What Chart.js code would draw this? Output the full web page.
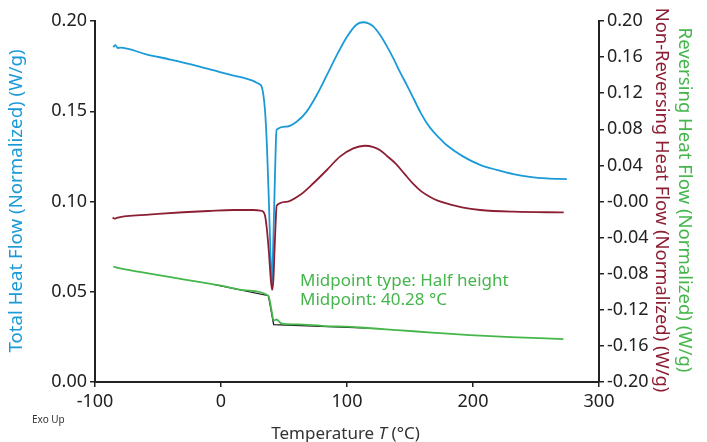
<!DOCTYPE html>
<html>
<head>
<meta charset="utf-8">
<script src="https://cdn.jsdelivr.net/npm/chart.js@4.4.1/dist/chart.umd.min.js"></script>
<style>
  html, body { margin: 0; padding: 0; background: #fff; }
  #wrap { width: 707px; height: 442px; }
</style>
</head>
<body>
<div id="wrap"><canvas id="dscChart" width="707" height="442"></canvas></div>
<script>
// Total heat flow (left axis, W/g)
const totalT = [-85.5, -84, -83, -82, -80, -60, -40, -20, 0, 10, 20, 25, 30, 32.3, 34.9, 36.5, 38, 39.5, 40.3, 41.2, 42.5, 43.6, 44.2, 52, 60, 68, 76, 84, 92, 100, 107.7, 113, 121, 126, 131.5, 137, 142, 147.5, 153, 158, 163, 168.5, 174, 179, 192, 205.6, 218.8, 232, 245, 258.5, 274.5];
const totalHF = [0.1855, 0.1866, 0.1860, 0.1850, 0.1853, 0.1817, 0.1786, 0.1753, 0.1716, 0.1698, 0.1681, 0.1670, 0.1652, 0.1636, 0.1507, 0.130, 0.100, 0.066, 0.053, 0.070, 0.105, 0.134, 0.1398, 0.1415, 0.1442, 0.1498, 0.1590, 0.1700, 0.1812, 0.1913, 0.1981, 0.1993, 0.1969, 0.1925, 0.1862, 0.1790, 0.1718, 0.1645, 0.1568, 0.1498, 0.1438, 0.1387, 0.1347, 0.1313, 0.1250, 0.1203, 0.1175, 0.1152, 0.1137, 0.1128, 0.1124];

// Non-reversing heat flow (right axis, W/g)
const nonRevT = [-86, -84.5, -83, -80, -70, -50, -30, -10, 9.8, 25.6, 31, 33.6, 35, 36.2, 38, 39.5, 40.6, 41.6, 42.6, 43.6, 44.2, 52, 62.7, 73.3, 84, 94.4, 105, 114, 121, 126, 132, 139, 146, 152.6, 159, 166, 172, 179, 192.3, 205.6, 232, 272];
const nonRevHF = [-0.0178, -0.0190, -0.0184, -0.0172, -0.0157, -0.0137, -0.0119, -0.0105, -0.0094, -0.0094, -0.0100, -0.0115, -0.0160, -0.0280, -0.0560, -0.0860, -0.0980, -0.0860, -0.0500, -0.0160, -0.0045, -0.0004, 0.0072, 0.0202, 0.0349, 0.0497, 0.0589, 0.0618, 0.0603, 0.0570, 0.0502, 0.0415, 0.0300, 0.0195, 0.0112, 0.0050, 0.0010, -0.0022, -0.0069, -0.0094, -0.0113, -0.0121];

// Reversing heat flow (right axis, W/g)
const revT = [-85.5, -84, -60, -30, 0, 20, 37.6, 39, 40.5, 41.6, 42.5, 44, 45.5, 48, 60, 80, 110, 140, 170, 197.6, 230, 271.7];
const revHF = [-0.0720, -0.0728, -0.0790, -0.0862, -0.0933, -0.0985, -0.1044, -0.1120, -0.1240, -0.1313, -0.1318, -0.1305, -0.1322, -0.1350, -0.1362, -0.1377, -0.1396, -0.1425, -0.1455, -0.1480, -0.1503, -0.1524];

// Glass transition construction lines (right axis)
const tangentT = [-5, 37.6, 41.8, 117];
const tangentHF = [-0.0921, -0.1044, -0.1365, -0.1402];

const xTicks = [-100, 0, 100, 200, 300];
const midpointLines = ["Midpoint type: Half height", "Midpoint: 40.28 °C"];

const blue = "#1b9ad8";
const wine = "#8c1f34";
const green = "#45b64b";
const ink = "#222222";
const font = "'Noto Sans', 'Open Sans', sans-serif";

const toPoints = (xs, ys) => xs.map((x, i) => ({ x, y: ys[i] }));

// write a rotated title squeezed/stretched to the length it has in the original
function fitText(ctx, text, x, y, angle, length, color) {
  ctx.save();
  ctx.font = "17px " + font;
  const w = ctx.measureText(text).width;
  ctx.font = (17 * length / w).toFixed(2) + "px " + font;
  ctx.translate(x, y);
  ctx.rotate(angle);
  ctx.fillStyle = color;
  ctx.textAlign = "center";
  ctx.textBaseline = "middle";
  ctx.fillText(text, 0, 0);
  ctx.restore();
}

const titlesPlugin = {
  id: "titles",
  afterDraw(chart) {
    const { ctx } = chart;
    fitText(ctx, "Total Heat Flow (Normalized) (W/g)", 17, 201, -Math.PI / 2, 303, blue);
    fitText(ctx, "Non-Reversing Heat Flow (Normalized) (W/g)", 661, 200, Math.PI / 2, 385, wine);
    fitText(ctx, "Reversing Heat Flow (Normalized) (W/g)", 684, 200, Math.PI / 2, 345, green);

    ctx.save();
    // x axis title with italic T
    ctx.textBaseline = "alphabetic";
    ctx.textAlign = "left";
    ctx.fillStyle = "#333";
    const a = "Temperature ", b = "T", c = " (°C)";
    const upright = "17px " + font, italic = "italic 17px " + font;
    ctx.font = upright;
    const wa = ctx.measureText(a).width, wc = ctx.measureText(c).width;
    ctx.font = italic;
    const wb = ctx.measureText(b).width;
    let x = 345.5 - (wa + wb + wc) / 2;
    const y = 439;
    ctx.font = upright; ctx.fillText(a, x, y); x += wa;
    ctx.font = italic; ctx.fillText(b, x, y); x += wb;
    ctx.font = upright; ctx.fillText(c, x, y);

    ctx.font = "10px " + font;
    ctx.fillText("Exo Up", 32, 423);

    ctx.font = "17px " + font;
    ctx.fillStyle = green;
    ctx.fillText(midpointLines[0], 300, 286);
    ctx.fillText(midpointLines[1], 300, 305);
    ctx.restore();
  }
};

const axisStyle = {
  grid: { display: true, drawOnChartArea: false, drawTicks: true, tickLength: 5, color: ink, lineWidth: 1.5 },
  border: { display: true, color: ink, width: 2 }
};

new Chart(document.getElementById("dscChart"), {
  type: "line",
  data: {
    datasets: [
      { label: "Reversing", data: toPoints(revT, revHF), yAxisID: "y2", borderColor: green, borderWidth: 1.8 },
      { label: "Tangent", data: toPoints(tangentT, tangentHF), yAxisID: "y2", borderColor: "#1a1a1a", borderWidth: 1.3, cubicInterpolationMode: "default", tension: 0 },
      { label: "Non-Reversing", data: toPoints(nonRevT, nonRevHF), yAxisID: "y2", borderColor: wine, borderWidth: 1.8 },
      { label: "Total", data: toPoints(totalT, totalHF), yAxisID: "y", borderColor: blue, borderWidth: 1.8 }
    ]
  },
  options: {
    responsive: false,
    animation: false,
    layout: { padding: { top: 21, left: 0, right: 0, bottom: 0 } },
    elements: { point: { radius: 0 }, line: { cubicInterpolationMode: "monotone" } },
    plugins: { legend: { display: false }, tooltip: { enabled: false } },
    scales: {
      x: {
        type: "linear", min: -100, max: 300,
        afterBuildTicks: (s) => { s.ticks = xTicks.map((v) => ({ value: v })); },
        ticks: { color: ink, font: { family: font, size: 18 }, padding: 4, maxRotation: 0 },
        afterFit: (s) => { s.height = 60; },
        ...axisStyle
      },
      y: {
        position: "left", min: 0, max: 0.2,
        ticks: { stepSize: 0.05, color: ink, font: { family: font, size: 18 }, padding: 3, callback: (v) => v.toFixed(2) },
        afterFit: (s) => { s.width = 95; },
        ...axisStyle
      },
      y2: {
        position: "right", min: -0.2, max: 0.2,
        ticks: { stepSize: 0.04, color: ink, font: { family: font, size: 18 }, padding: 3,
          callback: (v) => (Math.abs(v) < 1e-9 ? "-0.00" : v.toFixed(2)) },
        afterFit: (s) => { s.width = 108; },
        ...axisStyle
      }
    }
  },
  plugins: [titlesPlugin]
});
</script>
</body>
</html>
